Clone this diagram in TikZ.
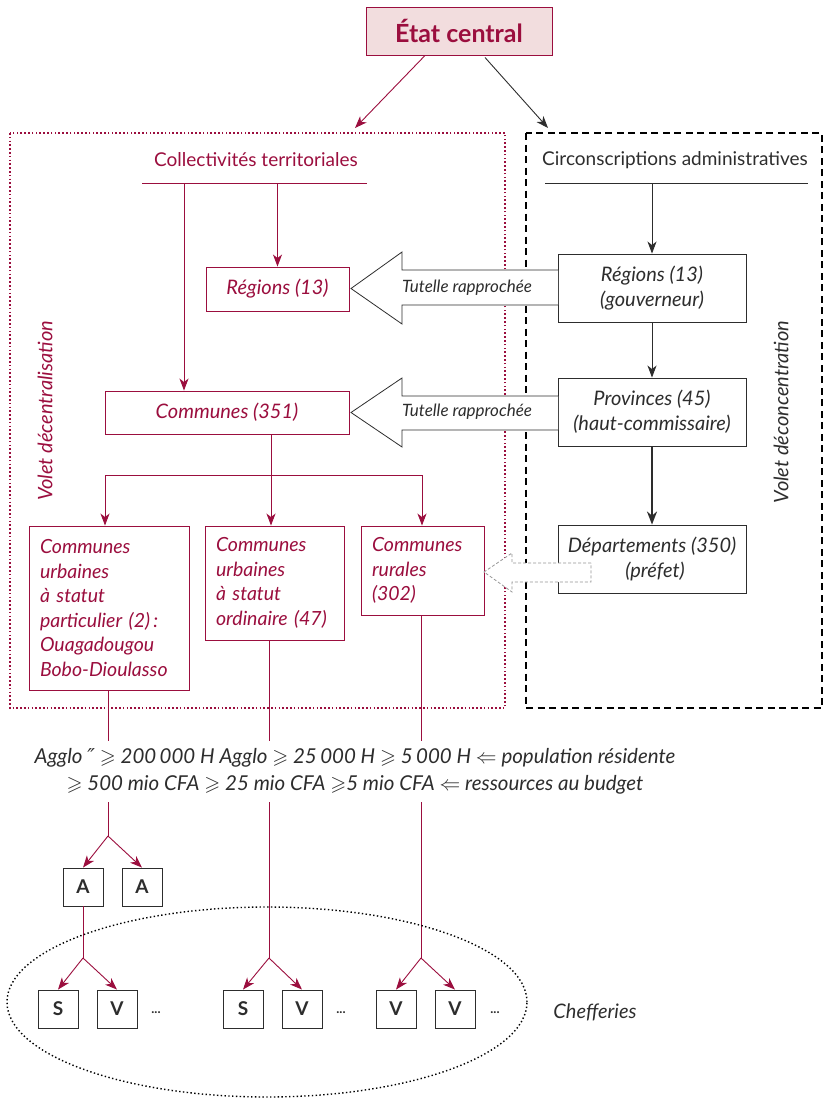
\documentclass[tikz,border=0pt]{standalone}
\usepackage{fontspec}
\setmainfont{Lato}
\newfontfamily\dejavu{DejaVu Sans}
\usepackage{amssymb}
\usetikzlibrary{arrows.meta,calc}
\definecolor{dred}{RGB}{155,14,62}
\definecolor{pinkf}{RGB}{242,221,222}
\definecolor{dgray}{RGB}{45,45,45}
\definecolor{lgray}{RGB}{150,150,150}
\newcommand\fsz[2]{\fontsize{#1}{#2}\selectfont}
\tikzset{
 etatbox/.style={draw=dred, line width=1pt, fill=pinkf, text=dred, font=\bfseries\fsz{25}{28}, minimum width=186pt, minimum height=48pt, inner sep=0pt},
 rbox/.style={draw=dred, line width=0.9pt, fill=white, text=dred, font=\itshape\fsz{20}{22}, inner sep=0pt},
 cbox/.style={draw=dred, line width=0.9pt, fill=white, text=dred, font=\itshape\fsz{19.5}{24.5}, align=left, inner xsep=11pt, inner ysep=0pt},
 gbox/.style={draw=dgray, line width=0.9pt, fill=white, text=dgray, font=\itshape\fsz{20}{25}, align=center, minimum width=188pt, minimum height=68pt, inner sep=0pt},
 sbox/.style={draw=dgray, line width=0.9pt, fill=white, text=dgray, font=\bfseries\fsz{19}{19}, minimum width=40pt, minimum height=38pt, inner sep=0pt},
 rline/.style={draw=dred, line width=0.9pt},
 rarr/.style={draw=dred, line width=0.9pt, -{Stealth[length=12pt,width=9pt,inset=3.5pt]}},
 barr/.style={draw=dgray, line width=0.9pt, -{Stealth[length=12pt,width=9pt,inset=3.5pt]}},
 hollow/.style={draw=dgray, line width=0.8pt, fill=white, line join=miter},
 dhollow/.style={draw=lgray, line width=0.8pt, fill=white, dash pattern=on 3pt off 2pt},
 tlabel/.style={text=dgray, font=\itshape\fsz{17}{20}, inner sep=0pt},
 dots/.style={text=dgray, font=\bfseries\fsz{13}{13}, inner sep=0pt},
}
\begin{document}
\begin{tikzpicture}[x=1pt,y=-1pt]
\useasboundingbox (0,0) rectangle (825,1100);

% frames
\draw[dred, line width=1.6pt, dash pattern=on 1.6pt off 2.2pt] (10,133) rectangle (505,708);
\draw[black, line width=1.6pt, dash pattern=on 7pt off 4.5pt] (526,133) rectangle (822,708);

% top
\node[etatbox] (etat) at (459,31) {État central};
\coordinate (ctop) at (355,128);
\coordinate (dtop) at (548,128);
\draw[rarr] ($(etat.south)+(-34,0)$) -- (ctop);
\draw[barr] ($(etat.south)+(26,2)$) -- (dtop);

% column headers
\node[text=dred, font=\fsz{19}{22}, inner sep=0pt] (coll) at (256,160) {Collectivités territoriales};
\coordinate (cl) at (142,183);
\coordinate (cr) at (367,183);
\draw[rline] (cl) -- (cr);
\node[text=dgray, font=\fsz{19}{22}, inner sep=0pt] (circ) at (675,160) {Circonscriptions administratives};
\coordinate (rl) at (545,183);
\coordinate (rr) at (808,183);
\draw[draw=dgray, line width=0.9pt] (rl) -- (rr);

% left boxes
\node[rbox, minimum width=143pt, minimum height=44pt] (regL) at (277.5,289) {Régions (13)};
\node[rbox, minimum width=244pt, minimum height=43pt] (comL) at (227,412.5) {Communes (351)};
\coordinate (cv) at (184,183);
\draw[rarr] (cl -| regL.north) -- (regL.north);
\draw[rarr] (cv) -- (cv |- comL.north);

% right boxes
\node[gbox] (regR) at (652,288) {Régions (13)\\(gouverneur)};
\node[gbox] (provR) at (652,412) {Provinces (45)\\(haut-commissaire)};
\node[gbox] (depR) at (652,559) {Départements (350)\\\hspace*{6pt}(préfet)};
\draw[barr] (rl -| regR.north) -- (regR.north);
\draw[barr] (regR) -- (provR);
\draw[draw=dgray, line width=2pt, -{Stealth[length=13pt,width=10pt,inset=4pt]}] (provR) -- (depR);

% tutelle arrows
\draw[hollow] (558,270) -- (402,270) -- (402,252) -- (351,288.5) -- (402,324) -- (402,305) -- (558,305);
\node[tlabel] (t1) at (467,287.5) {Tutelle rapprochée};
\draw[hollow] (558,396) -- (402,396) -- (402,378) -- (351,412.5) -- (402,447) -- (402,430) -- (558,430);
\node[tlabel] (t2) at (467,412) {Tutelle rapprochée};

% communes split
\coordinate (h1) at (105,475);
\coordinate (h2) at (271,475);
\coordinate (h3) at (422,475);
\draw[rline] (h2 |- comL.south) -- (h2);
\draw[rline] (h1) -- (h3);

\node[cbox, text width=138pt, minimum width=160pt, minimum height=164pt] (cu1) at (109,608) {Communes\\urbaines\\à statut\\particulier (2)\,:\\Ouagadougou\\Bobo-Dioulasso};
\node[cbox, text width=117pt, minimum width=139pt, minimum height=114pt] (cu2) at (274.5,583) {Communes\\urbaines\\à statut\\ordinaire~(47)};
\node[cbox, text width=101pt, minimum width=123pt, minimum height=89pt] (cru) at (422.5,570.5) {Communes\\rurales\\(302)};
\draw[rarr] (h1) -- (h1 |- cu1.north);
\draw[rarr] (h2) -- (h2 |- cu2.north);
\draw[rarr] (h3) -- (h3 |- cru.north);

% dashed hollow arrow
\draw[dhollow] (591,563) -- (512,563) -- (512,553) -- (484,572) -- (512,592) -- (512,582) -- (591,582) -- cycle;

% side labels
\node[rotate=90, text=dred, font=\itshape\fsz{20}{22}, inner sep=0pt] (vdec) at (45,411) {Volet décentralisation};
\node[rotate=90, text=dgray, font=\itshape\fsz{20}{22}, inner sep=0pt] (vdcon) at (781,412) {Volet déconcentration};

% bottom hierarchy
\coordinate (b1) at (108,836);
\coordinate (b2) at (269,958);
\coordinate (b3) at (421,958);
\coordinate (b4) at (83,958);
\node[sbox] (A1) at (83,887) {A};
\node[sbox] (A2) at (142,887) {A};
\node[sbox] (S1) at (58,1009) {S};
\node[sbox] (V1) at (117,1009) {V};
\node[sbox] (S2) at (243,1009) {S};
\node[sbox] (V2) at (302,1009) {V};
\node[sbox] (V3) at (396,1009) {V};
\node[sbox] (V4) at (455,1009) {V};
\node[dots] (d1) at (156,1013) {...};
\node[dots] (d2) at (341,1013) {...};
\node[dots] (d3) at (495,1013) {...};

\draw[rline] (b1 |- cu1.south) -- (b1);
\draw[rline] (b2 |- cu2.south) -- (b2);
\draw[rline] (b3 |- cru.south) -- (b3);
\draw[rarr] (b1) -- (A1.north);
\draw[rarr] (b1) -- (A2.north);
\draw[rline] (A1.south) -- (b4);
\draw[rarr] (b4) -- (S1.north);
\draw[rarr] (b4) -- (V1.north);
\draw[rarr] (b2) -- (S2.north);
\draw[rarr] (b2) -- (V2.north);
\draw[rarr] (b3) -- (V3.north);
\draw[rarr] (b3) -- (V4.north);

% criteria text
\node[fill=white, text=dgray, font=\itshape\fsz{20.5}{27}, align=center, inner xsep=2pt, inner ysep=8pt] (crit) at (355,771.5)
 {Agglo {\dejavu ″} $\geqslant$ 200\,000 H Agglo $\geqslant$ 25\,000 H $\geqslant$ 5\,000 H $\Leftarrow$ population résidente\\
  $\geqslant$ 500 mio CFA $\geqslant$ 25 mio CFA $\geqslant$5 mio CFA $\Leftarrow$ ressources au budget};

% chefferies
\draw[black, line width=1.4pt, dash pattern=on 1.4pt off 2.4pt] (267,1002) ellipse [x radius=260pt, y radius=95pt];
\node[text=dgray, font=\itshape\fsz{20}{22}, inner sep=0pt] (chef) at (595,1012) {Chefferies};
\end{tikzpicture}
\end{document}
